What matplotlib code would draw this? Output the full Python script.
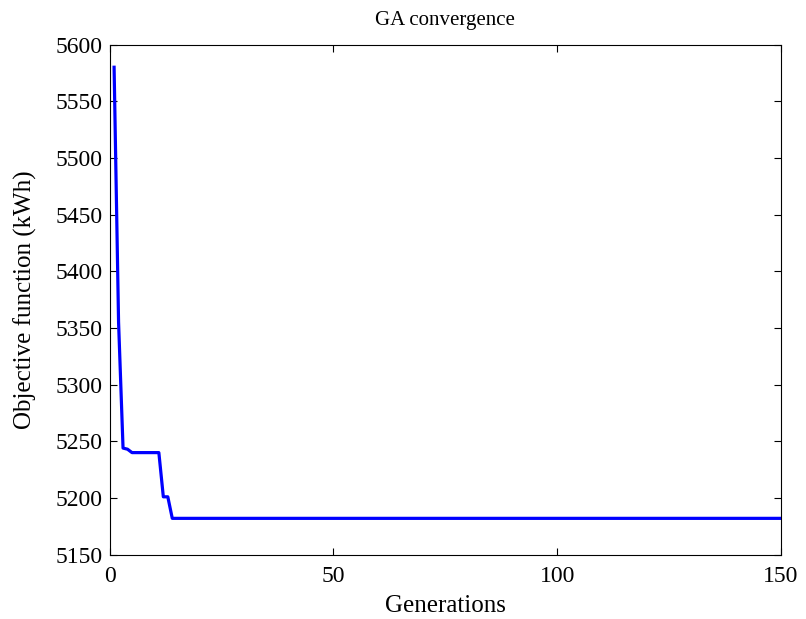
import matplotlib.pyplot as plt
import numpy as np

# best objective per generation
early_gens = [1, 2, 3, 4, 5, 11, 12, 13, 14, 150]
early_vals = [5580, 5355, 5244, 5243, 5240, 5240, 5201, 5201, 5182, 5182]

generations = np.arange(1, 151)
best = np.interp(generations, early_gens, early_vals)

plt.rcParams['font.family'] = 'Liberation Serif'

fig = plt.figure(figsize=(8.06, 6.19), dpi=100)
ax = fig.add_axes([0.136, 0.104, 0.833, 0.824])
ax.plot(generations, best, color='#0000ff', linewidth=2.3)

ax.set_xlim(0, 150)
ax.set_ylim(5150, 5600)
ax.set_xticks([0, 50, 100, 150])
ax.set_yticks(np.arange(5150, 5601, 50))
ax.tick_params(direction='in', top=True, right=True, labelsize=17, length=5)
ax.tick_params(axis='x', pad=8)
ax.tick_params(axis='y', pad=5)
ax.set_title('GA convergence', fontsize=15, pad=14)
ax.set_xlabel('Generations', fontsize=18, labelpad=6)
ax.set_ylabel('Objective function (kWh)', fontsize=18, labelpad=13)

plt.savefig('out.png', dpi=100)
